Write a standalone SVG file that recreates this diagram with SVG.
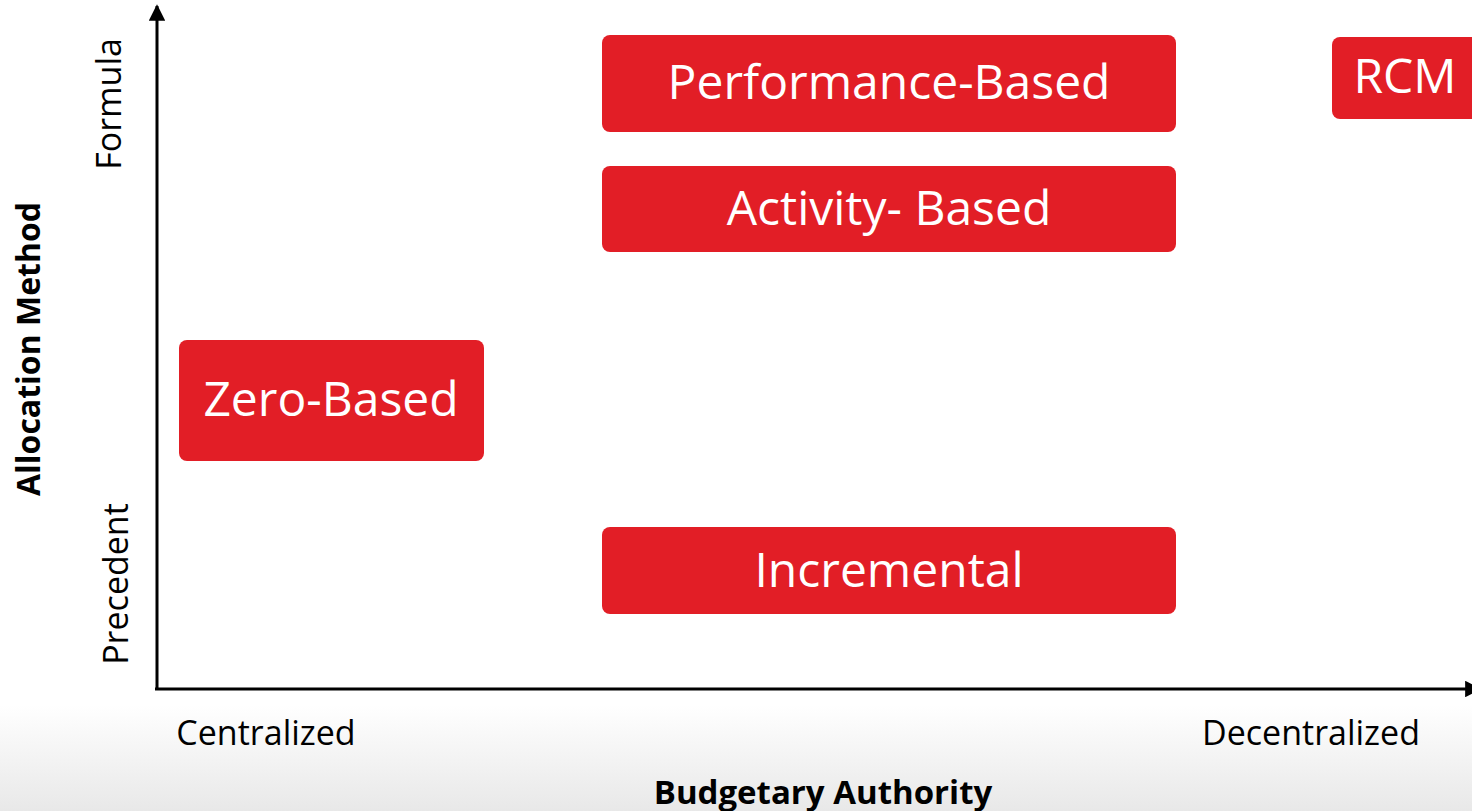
<svg xmlns="http://www.w3.org/2000/svg" width="1472" height="811" viewBox="0 0 1472 811">
  <defs>
    <linearGradient id="floor" x1="0" y1="0" x2="0" y2="1">
      <stop offset="0" stop-color="#ffffff"/>
      <stop offset="1" stop-color="#e8e8e8"/>
    </linearGradient>
    <marker id="arrow" viewBox="0 0 10 10" refX="9" refY="5" markerWidth="5.5" markerHeight="5.5" orient="auto" markerUnits="strokeWidth">
      <path d="M0,0 L10,5 L0,10 Z" fill="#000"/>
    </marker>
    <style>
      .box { fill: #e21e26; }
      .box-label { font-family: "Open Sans", "Liberation Sans", sans-serif; font-size: 48px; fill: #ffffff; text-anchor: middle; }
      .tick { font-family: "Open Sans", "Liberation Sans", sans-serif; font-size: 34px; fill: #000; text-anchor: middle; }
      .axis-title { font-family: "Open Sans", "Liberation Sans", sans-serif; font-size: 32px; font-weight: bold; fill: #000; text-anchor: middle; }
      .axis { stroke: #000; stroke-width: 3; fill: none; }
    </style>
  </defs>

  <rect width="1472" height="811" fill="#ffffff"/>
  <rect y="705" width="1472" height="106" fill="url(#floor)"/>

  <!-- axes -->
  <g id="connectors">
    <line class="axis" x1="157" y1="689" x2="157" y2="6" marker-end="url(#arrow)"/>
    <line class="axis" x1="155" y1="689" x2="1480" y2="689" marker-end="url(#arrow)"/>
  </g>

  <!-- axis labels -->
  <g id="y-labels">
    <text class="tick" transform="translate(121 104) rotate(-90)">Formula</text>
    <text class="tick" transform="translate(128 584) rotate(-90)">Precedent</text>
    <text class="axis-title" transform="translate(40 349) rotate(-90)">Allocation Method</text>
  </g>
  <g id="x-labels">
    <text class="tick" x="266" y="745">Centralized</text>
    <text class="tick" x="1311" y="745">Decentralized</text>
    <text class="axis-title" x="823" y="804" style="font-size:33px">Budgetary Authority</text>
  </g>

  <!-- budgeting models -->
  <g id="performance-based">
    <rect class="box" x="602" y="35" width="574" height="97" rx="8"/>
    <text class="box-label" x="889" y="99">Performance-Based</text>
  </g>
  <g id="activity-based">
    <rect class="box" x="602" y="166" width="574" height="86" rx="8"/>
    <text class="box-label" x="889" y="225">Activity- Based</text>
  </g>
  <g id="zero-based">
    <rect class="box" x="179" y="340" width="305" height="121" rx="8"/>
    <text class="box-label" x="331" y="416">Zero-Based</text>
  </g>
  <g id="incremental">
    <rect class="box" x="602" y="527" width="574" height="87" rx="8"/>
    <text class="box-label" x="889" y="587">Incremental</text>
  </g>
  <g id="rcm">
    <rect class="box" x="1332" y="37" width="160" height="82" rx="8"/>
    <text class="box-label" x="1405" y="93">RCM</text>
  </g>
</svg>
